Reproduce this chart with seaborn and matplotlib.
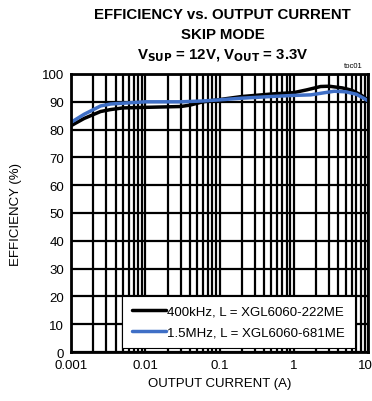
import matplotlib
matplotlib.use("Agg")
import matplotlib.pyplot as plt
import matplotlib.transforms as mtransforms
import seaborn as sns
import pandas as pd
from matplotlib.ticker import FixedLocator, LogLocator, NullFormatter

sns.set_style("white")
plt.rcParams['font.family'] = ['Liberation Sans Narrow', 'Liberation Sans', 'DejaVu Sans']
plt.rcParams['text.color'] = 'black'
plt.rcParams['axes.labelcolor'] = 'black'

# data
cur_400k = [0.001, 0.0015, 0.0025, 0.0034, 0.005, 0.01, 0.03, 0.04, 0.06, 0.1, 0.2, 0.5, 1.0, 1.5, 2.3, 3.0, 4.5, 6.0, 8.0, 10.0]
eff_400k = [81.4, 84.0, 86.5, 87.2, 87.8, 88.0, 88.3, 88.8, 90.0, 90.8, 91.9, 92.8, 93.3, 94.3, 95.5, 95.6, 95.0, 94.2, 92.5, 90.7]
cur_1m5 = [0.001, 0.0015, 0.0025, 0.0034, 0.01, 0.03, 0.06, 0.1, 0.2, 0.5, 1.0, 1.7, 2.5, 3.5, 5.0, 7.0, 10.0]
eff_1m5 = [82.6, 85.5, 88.5, 89.2, 90.0, 90.0, 90.3, 90.7, 91.3, 91.9, 92.3, 92.5, 93.2, 93.8, 93.6, 92.7, 90.4]
series_names = ["400kHz, L = XGL6060-222ME", "1.5MHz, L = XGL6060-681ME"]
x_ticks = [0.001, 0.01, 0.1, 1, 10]
x_ticklabels = ["0.001", "0.01", "0.1", "1", "10"]
y_ticks = list(range(0, 101, 10))

df = pd.concat([
    pd.DataFrame({"I": cur_400k, "E": eff_400k, "s": series_names[0]}),
    pd.DataFrame({"I": cur_1m5, "E": eff_1m5, "s": series_names[1]}),
])

fig = plt.figure(figsize=(3.72, 4.02), dpi=100)
ax = fig.add_axes([71/372, 1-353/402, (368-71)/372, (353-75)/402])

sns.lineplot(data=df, x="I", y="E", hue="s", palette=["black", "#3f6fc6"],
             linewidth=2.5, ax=ax, sort=True, estimator=None)

ax.set_xscale("log")
ax.set_xlim(0.001, 10)
ax.set_ylim(0, 100)
ax.xaxis.set_major_locator(FixedLocator(x_ticks))
ax.set_xticklabels(x_ticklabels)
ax.xaxis.set_minor_locator(LogLocator(base=10, subs=range(2, 10)))
ax.xaxis.set_minor_formatter(NullFormatter())
ax.set_yticks(y_ticks)
ax.grid(True, which="both", axis="x", color="black", linewidth=1.6)
ax.grid(True, which="major", axis="y", color="black", linewidth=1.6)
ax.set_axisbelow(True)
for sp in ax.spines.values():
    sp.set_linewidth(2)
    sp.set_color("black")
ax.tick_params(axis="both", which="both", direction="in", labelsize=9.5, colors="black",
               length=4, width=1.2, pad=5)
ax.set_xlabel("OUTPUT CURRENT (A)", fontsize=9.5, labelpad=4)
ax.set_ylabel("EFFICIENCY (%)", fontsize=9.5, labelpad=14)

# keep the last tick label inside the figure
last = ax.get_xticklabels()[-1]
last.set_transform(last.get_transform() + mtransforms.ScaledTranslation(-3/100, 0, fig.dpi_scale_trans))

leg = ax.legend(loc="lower right", bbox_to_anchor=(0.97, 0.0), fontsize=9.5, frameon=True,
                fancybox=False, edgecolor="black", framealpha=1, handlelength=2.6,
                handletextpad=0.1, borderpad=0.75, labelspacing=0.6, borderaxespad=0.3)
leg.get_frame().set_linewidth(0.8)
for l in leg.get_lines():
    l.set_linewidth(2.5)

fig.text(0.598, 1-15/402, "EFFICIENCY vs. OUTPUT CURRENT", ha="center", va="center",
         fontsize=10.8, fontweight="bold")
fig.text(0.598, 1-35/402, "SKIP MODE", ha="center", va="center", fontsize=10.8, fontweight="bold")
fig.text(0.598, 1-56/402, r"V$_{\mathbf{SUP}}$ = 12V, V$_{\mathbf{OUT}}$ = 3.3V", ha="center", va="center",
         fontsize=10.8, fontweight="bold")
fig.text(363/372, 1-67/402, "toc01", ha="right", va="center", fontsize=5.5)

fig.savefig("out.png", dpi=100)
